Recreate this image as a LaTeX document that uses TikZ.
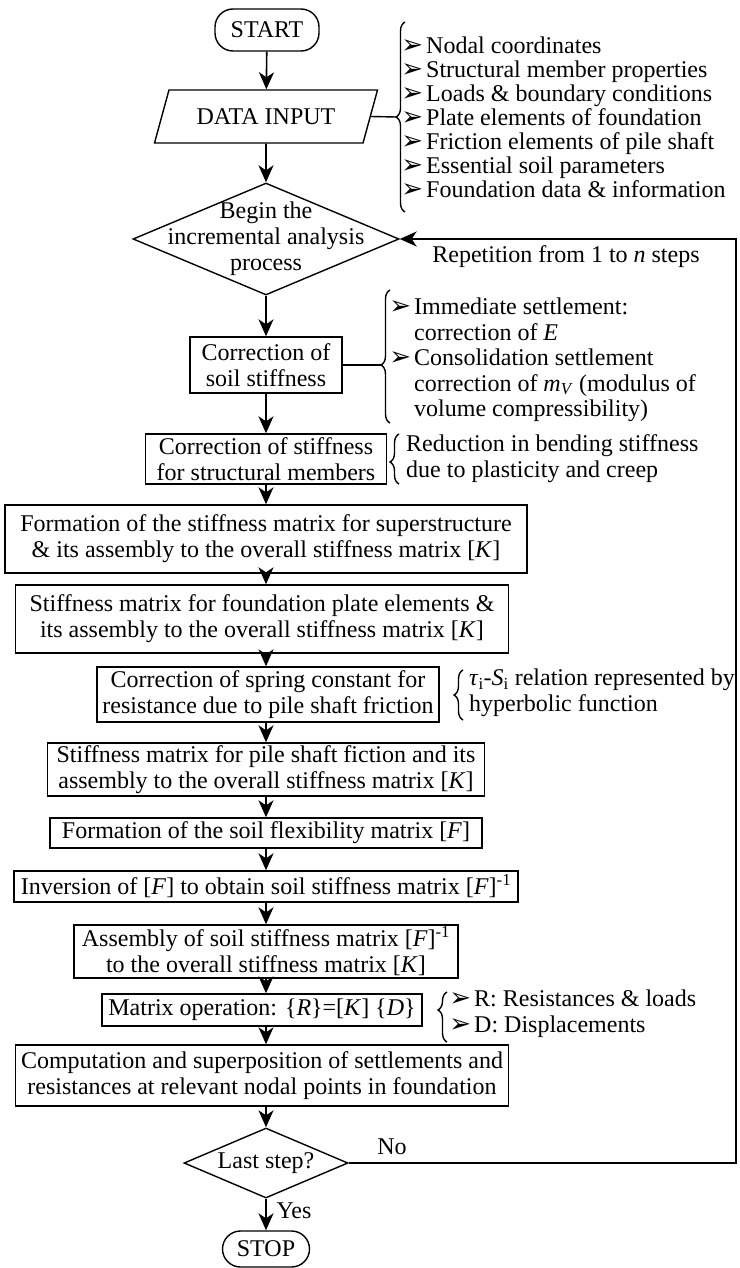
\documentclass[tikz,border=0pt]{standalone}
\usepackage{fontspec}
\setmainfont{Liberation Serif}
\newfontfamily\dejavu{DejaVu Sans}
\usetikzlibrary{shapes.geometric,arrows.meta,decorations.pathreplacing}
\newcommand{\bul}{{\dejavu\fontsize{26}{26}\selectfont\char"27A2}}
\newcommand{\bi}{\llap{\bul\hspace{3pt}}}
\begin{document}
\begin{tikzpicture}[x=1pt,y=-1pt,
  every node/.style={font=\fontsize{24}{26}\selectfont},
  box/.style={draw,line width=1.4pt,inner xsep=3pt,inner ysep=1pt,align=center},
  pill/.style={draw,line width=1.4pt,rounded corners=18pt,inner sep=0pt},
  dia/.style={diamond,draw,line width=1.4pt,inner sep=0pt},
  arr/.style={line width=1.6pt,-{Stealth[length=17pt,width=15pt,inset=5pt]}},
  ln/.style={line width=1.4pt},
  brc/.style={line width=1.4pt,decorate,decoration={brace,amplitude=9pt,aspect=#1}},
  brc/.default=0.5,
  lst/.style={align=left,anchor=west,inner sep=0pt}
]
\useasboundingbox (0,0) rectangle (739,1268);

% main column
\node[pill,minimum width=104,minimum height=42] (start) at (267,30) {START};
\node[trapezium,trapezium left angle=48,trapezium right angle=132,draw,line width=1.4pt,
      minimum height=53,minimum width=223,trapezium stretches body,inner sep=0pt] (data) at (266,116.5) {DATA INPUT};
\node[dia,minimum width=266,minimum height=112] (begin) at (266,239) {};
\node[align=center,inner sep=0pt] (begintxt) at (266,239) {Begin the\\incremental analysis\\process};
\node[box,minimum width=152,minimum height=56] (soil) at (266,365) {Correction of\\soil stiffness};
\node[box,minimum width=241,minimum height=50] (struct) at (266,459) {Correction of stiffness\\for structural members};
\node[box,minimum width=522,minimum height=68] (form) at (266,539) {Formation of the stiffness matrix for superstructure\\\& its assembly to the overall stiffness matrix [\textit{K}]};
\node[box,minimum width=493,minimum height=68] (found) at (262,619) {Stiffness matrix for foundation plate elements \&\\its assembly to the overall stiffness matrix [\textit{K}]};
\node[box,minimum width=342,minimum height=55] (spring) at (268,694.5) {Correction of spring constant for\\resistance due to pile shaft friction};
\node[box,minimum width=437,minimum height=53] (pile) at (266,769.5) {Stiffness matrix for pile shaft fiction and its\\assembly to the overall stiffness matrix [\textit{K}]};
\node[box,minimum width=432,minimum height=30] (flex) at (266,833) {Formation of the soil flexibility matrix [\textit{F}]};
\node[box,minimum width=504,minimum height=31] (inv) at (266,886.5) {Inversion of [\textit{F}] to obtain soil stiffness matrix [\textit{F}]\textsuperscript{-1}};
\node[box,minimum width=384,minimum height=53] (assem) at (266,951.5) {Assembly of soil stiffness matrix [\textit{F}]\textsuperscript{-1}\\to the overall stiffness matrix [\textit{K}]};
\node[box,minimum width=320,minimum height=32] (matrix) at (262,1010) {Matrix operation: \{\textit{R}\}=[\textit{K}] \{\textit{D}\}};
\node[box,minimum width=493,minimum height=61] (comp) at (262,1075.5) {Computation and superposition of settlements and\\resistances at relevant nodal points in foundation};
\node[dia,minimum width=164,minimum height=70] (last) at (266,1163) {};
\node[inner sep=0pt] (lasttxt) at (266,1163) {Last step?};
\node[pill,minimum width=87,minimum height=36] (stop) at (266,1249) {STOP};

% arrows (vertical, along the main axis)
\draw[arr] (start) -- (data);
\draw[arr] (data) -- (begin);
\draw[arr] (begin) -- (soil);
\draw[arr] (soil) -- (struct);
\draw[arr] (struct) -- (form);
\draw[arr] (form.south -| soil) -- (found.north -| soil);
\draw[arr] (found.south -| soil) -- (spring.north -| soil);
\draw[arr] (spring.south -| soil) -- (pile.north -| soil);
\draw[arr] (pile) -- (flex);
\draw[arr] (flex) -- (inv);
\draw[arr] (inv) -- (assem);
\draw[arr] (assem.south -| soil) -- (matrix.north -| soil);
\draw[arr] (matrix.south -| soil) -- (comp.north -| soil);
\draw[arr] (comp.south -| soil) -- (last);
\draw[arr] (last) -- (stop);

% feedback loop
\coordinate (fb1) at (736,1163);
\coordinate (fb2) at (736,239);
\draw[arr] (last.east) -- (fb1) -- (fb2) -- (begin.east);
\node (no) at (392,1147) {No};
\node (yes) at (294,1211) {Yes};
\node (rep) at (566,257) {Repetition from 1 to \textit{n} steps};

% data list
\coordinate (db1) at (405,212);
\coordinate (db2) at (405,22);
\coordinate (dtip) at (396,117);
\draw[brc] (db1) -- (db2);
\draw[ln] (data.east) -- (dtip);
\node[lst,font=\fontsize{24}{24}\selectfont] (datalist) at (426,117) {\bi Nodal coordinates\\\bi Structural member properties\\\bi Loads \& boundary conditions\\\bi Plate elements of foundation\\\bi Friction elements of pile shaft\\\bi Essential soil parameters\\\bi Foundation data \& information};

% soil list
\coordinate (sb1) at (390,423);
\coordinate (sb2) at (390,290);
\coordinate (stip) at (381,365);
\draw[brc=0.436] (sb1) -- (sb2);
\draw[ln] (soil.east) -- (stip);
\node[lst,font=\fontsize{24}{25.5}\selectfont] (soillist) at (414,360) {\bi Immediate settlement:\\correction of \textit{E}\\\bi Consolidation settlement\\correction of \textit{m}\textsubscript{\textit{V}} (modulus of\\volume compressibility)};

% structural list
\coordinate (tb1) at (399,484);
\coordinate (tb2) at (399,434);
\draw[brc=0.44] (tb1) -- (tb2);
\node[lst] (structlist) at (406,459) {Reduction in bending stiffness\\due to plasticity and creep};

% spring list
\coordinate (pb1) at (463,720);
\coordinate (pb2) at (463,670);
\draw[brc] (pb1) -- (pb2);
\node[lst] (springlist) at (469,693) {\textit{τ}\textsubscript{i}-\textit{S}\textsubscript{i} relation represented by\\hyperbolic function};

% matrix list
\coordinate (mb1) at (447,1042);
\coordinate (mb2) at (447,992);
\draw[brc=0.64] (mb1) -- (mb2);
\node[lst] (matlist) at (474,1014) {\bi R: Resistances \& loads\\\bi D: Displacements};
\end{tikzpicture}
\end{document}
